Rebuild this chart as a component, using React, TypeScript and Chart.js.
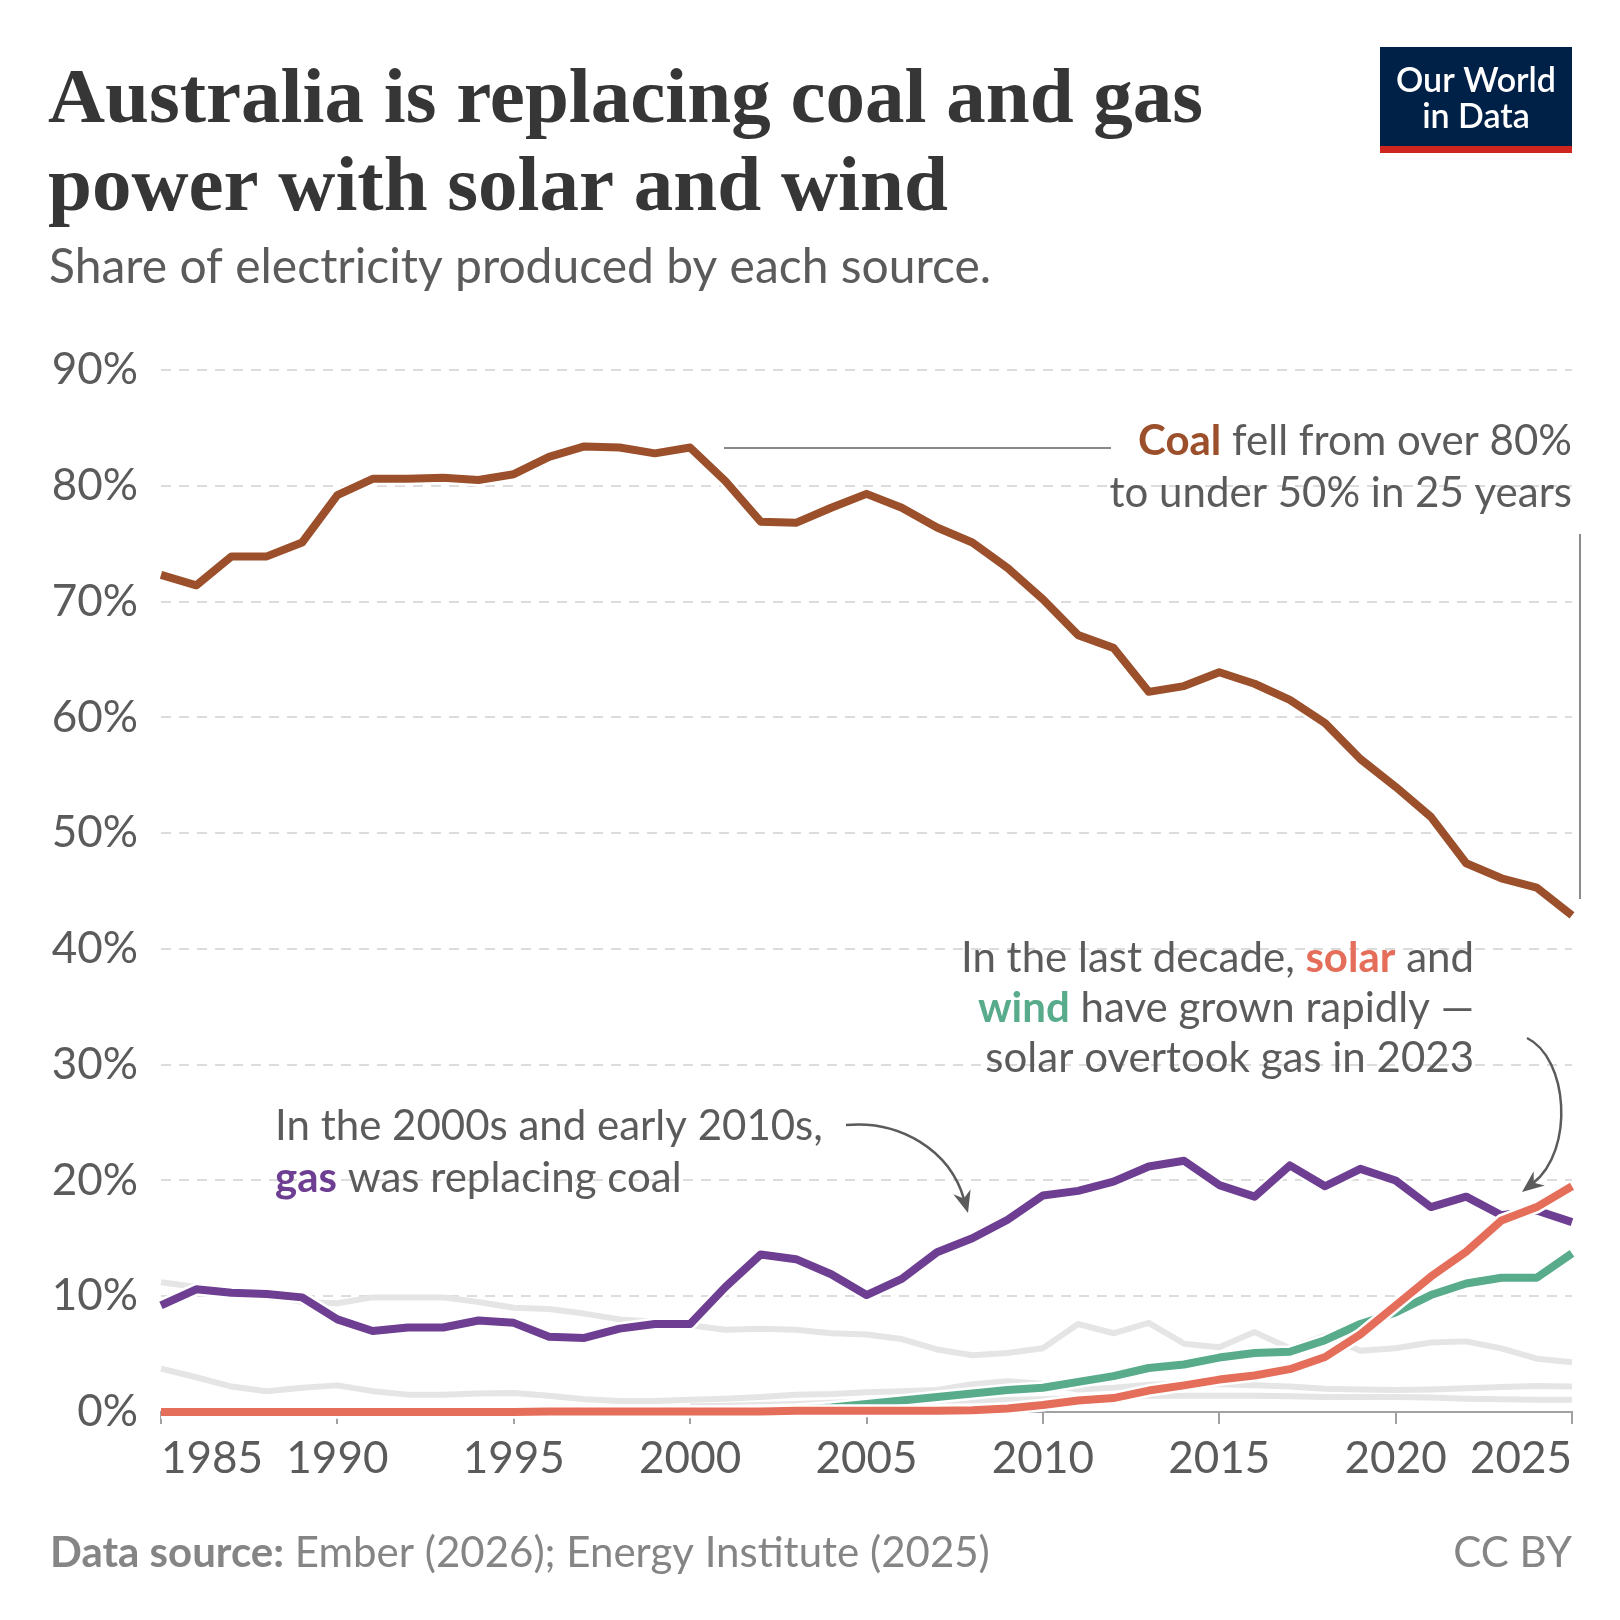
import React, { useEffect, useRef } from "react";
import { Chart, registerables } from "chart.js";

Chart.register(...registerables);

// ---------- data ----------
const years = [
  1985, 1986, 1987, 1988, 1989, 1990, 1991, 1992, 1993, 1994,
  1995, 1996, 1997, 1998, 1999, 2000, 2001, 2002, 2003, 2004,
  2005, 2006, 2007, 2008, 2009, 2010, 2011, 2012, 2013, 2014,
  2015, 2016, 2017, 2018, 2019, 2020, 2021, 2022, 2023, 2024,
  2025,
];

const coal = [
  72.3, 71.4, 73.9, 73.9, 75.1, 79.2, 80.6, 80.6, 80.7, 80.5,
  81.0, 82.5, 83.4, 83.3, 82.8, 83.3, 80.4, 76.9, 76.8, 78.1,
  79.3, 78.1, 76.4, 75.1, 72.9, 70.2, 67.1, 66.0, 62.2, 62.7,
  63.9, 62.9, 61.5, 59.5, 56.4, 54.0, 51.4, 47.4, 46.1, 45.3,
  42.9,
];

const gas = [
  9.2, 10.6, 10.3, 10.2, 9.9, 8.0, 7.0, 7.3, 7.3, 7.9,
  7.7, 6.5, 6.4, 7.2, 7.6, 7.6, 10.8, 13.6, 13.2, 11.9,
  10.1, 11.5, 13.8, 15.0, 16.6, 18.7, 19.1, 19.9, 21.2, 21.7,
  19.6, 18.6, 21.3, 19.5, 21.0, 20.0, 17.7, 18.6, 17.0, 17.4,
  16.4,
];

const solar = [
  0, 0, 0, 0, 0, 0, 0, 0, 0, 0,
  0, 0.05, 0.05, 0.05, 0.05, 0.05, 0.05, 0.05, 0.1, 0.1,
  0.1, 0.1, 0.1, 0.15, 0.3, 0.6, 1.0, 1.2, 1.85, 2.3,
  2.8, 3.15, 3.7, 4.75, 6.7, 9.2, 11.7, 13.85, 16.55, 17.7,
  19.5,
];

const wind = [
  0, 0, 0, 0, 0, 0, 0, 0, 0, 0,
  0, 0, 0, 0, 0.02, 0.03, 0.05, 0.1, 0.2, 0.4,
  0.7, 1.0, 1.3, 1.6, 1.9, 2.1, 2.6, 3.1, 3.8, 4.1,
  4.7, 5.1, 5.2, 6.2, 7.6, 8.6, 10.1, 11.1, 11.6, 11.6,
  13.7,
];

const hydro = [
  11.2, 10.8, 10.5, 10.1, 9.5, 9.4, 9.9, 9.9, 9.9, 9.5,
  9.0, 8.9, 8.5, 8.0, 7.8, 7.5, 7.1, 7.2, 7.1, 6.8,
  6.7, 6.3, 5.4, 4.9, 5.1, 5.5, 7.6, 6.8, 7.7, 5.9,
  5.6, 6.9, 5.5, 6.6, 5.3, 5.5, 6.0, 6.1, 5.5, 4.6,
  4.3,
];

const oil = [
  3.75, 3.0, 2.2, 1.8, 2.1, 2.3, 1.8, 1.5, 1.5, 1.6,
  1.65, 1.4, 1.1, 0.95, 0.95, 1.05, 1.15, 1.3, 1.5, 1.55,
  1.7, 1.8, 1.9, 2.4, 2.65, 2.45, 1.95, 2.1, 2.35, 2.45,
  2.4, 2.3, 2.2, 2.0, 1.95, 1.9, 1.95, 2.05, 2.15, 2.25,
  2.2,
];

const bioenergy = [
  null, null, null, null, null, null, null, null, null, null,
  null, null, null, null, null, 0.5, 0.55, 0.6, 0.7, 0.8,
  0.9, 0.95, 1.0, 1.0, 1.05, 1.1, 1.2, 1.3, 1.4, 1.4,
  1.4, 1.4, 1.35, 1.3, 1.3, 1.3, 1.25, 1.15, 1.1, 1.05,
  1.05,
];

const xTickStep = 5;
const yTickStep = 10;
const yMax = 90;

// ---------- styles ----------
const COAL = "#9b4f2a";
const GAS = "#6d3e91";
const SOLAR = "#e56e5a";
const WIND = "#58ac8c";
const OTHER = "#e5e5e5";
const TEXT = "#5b5b5b";

const FONT = "Lato, 'Noto Sans', sans-serif";
const SERIF = "'Liberation Serif', 'DejaVu Serif', serif";

type Run = { text: string; color: string; font: string };

function drawRuns(ctx: CanvasRenderingContext2D, runs: Run[], x: number, y: number, align: "left" | "right" | "center") {
  const widths = runs.map((r) => {
    ctx.font = r.font;
    return ctx.measureText(r.text).width;
  });
  const total = widths.reduce((a, b) => a + b, 0);
  let cx = align === "right" ? x - total : align === "center" ? x - total / 2 : x;
  ctx.textAlign = "left";
  runs.forEach((r, i) => {
    ctx.font = r.font;
    ctx.fillStyle = r.color;
    ctx.fillText(r.text, cx, y);
    cx += widths[i];
  });
}

function drawArrow(ctx: CanvasRenderingContext2D, p0: number[], p1: number[], p2: number[], p3: number[]) {
  const ang = Math.atan2(p3[1] - p2[1], p3[0] - p2[0]);
  const len = 22;
  const half = 9;
  const ux = Math.cos(ang);
  const uy = Math.sin(ang);
  const end = [p3[0] - ux * 14, p3[1] - uy * 14];
  ctx.strokeStyle = TEXT;
  ctx.lineWidth = 2.5;
  ctx.beginPath();
  ctx.moveTo(p0[0], p0[1]);
  ctx.bezierCurveTo(p1[0], p1[1], p2[0], p2[1], end[0], end[1]);
  ctx.stroke();
  const bx = p3[0] - ux * len;
  const by = p3[1] - uy * len;
  const nx = -uy;
  const ny = ux;
  ctx.fillStyle = TEXT;
  ctx.beginPath();
  ctx.moveTo(p3[0], p3[1]);
  ctx.lineTo(bx + nx * half, by + ny * half);
  ctx.lineTo(p3[0] - ux * (len - 7), p3[1] - uy * (len - 7));
  ctx.lineTo(bx - nx * half, by - ny * half);
  ctx.closePath();
  ctx.fill();
}

const decorPlugin = {
  id: "decor",
  afterDraw(chart: any) {
    const ctx: CanvasRenderingContext2D = chart.ctx;
    ctx.save();
    ctx.textBaseline = "alphabetic";

    // Title
    ctx.fillStyle = "#363636";
    ctx.font = `bold 79px ${SERIF}`;
    ctx.textAlign = "left";
    ctx.fillText("Australia is replacing coal and gas", 48, 122);
    ctx.fillText("power with solar and wind", 48, 210);

    // Subtitle
    ctx.fillStyle = TEXT;
    ctx.font = `48px ${FONT}`;
    ctx.fillText("Share of electricity produced by each source.", 49, 283);

    // Logo
    ctx.fillStyle = "#002147";
    ctx.fillRect(1380, 47, 192, 106);
    ctx.fillStyle = "#ce261e";
    ctx.fillRect(1380, 146, 192, 7);
    ctx.fillStyle = "#ffffff";
    ctx.textAlign = "center";
    ctx.font = `600 34px ${FONT}`;
    ctx.fillText("Our World", 1476, 92);
    ctx.fillText("in Data", 1476, 128);

    // Footer
    const foot = "#858585";
    drawRuns(ctx, [
      { text: "Data source:", color: foot, font: `bold 42px ${FONT}` },
      { text: " Ember (2026); Energy Institute (2025)", color: foot, font: `42px ${FONT}` },
    ], 50, 1567, "left");
    drawRuns(ctx, [{ text: "CC BY", color: foot, font: `42px ${FONT}` }], 1572, 1567, "right");

    // Annotations
    const reg = `42px ${FONT}`;
    const bold = `bold 42px ${FONT}`;
    drawRuns(ctx, [
      { text: "Coal", color: COAL, font: bold },
      { text: " fell from over 80%", color: TEXT, font: reg },
    ], 1572, 455, "right");
    drawRuns(ctx, [{ text: "to under 50% in 25 years", color: TEXT, font: reg }], 1572, 507, "right");

    ctx.strokeStyle = "#8a8a8a";
    ctx.lineWidth = 2;
    ctx.beginPath();
    ctx.moveTo(724, 448);
    ctx.lineTo(1111, 448);
    ctx.moveTo(1580, 534);
    ctx.lineTo(1580, 899);
    ctx.stroke();

    drawRuns(ctx, [
      { text: "In the last decade, ", color: TEXT, font: reg },
      { text: "solar", color: SOLAR, font: bold },
      { text: " and", color: TEXT, font: reg },
    ], 1474, 972, "right");
    drawRuns(ctx, [
      { text: "wind", color: WIND, font: bold },
      { text: " have grown rapidly —", color: TEXT, font: reg },
    ], 1474, 1022, "right");
    drawRuns(ctx, [{ text: "solar overtook gas in 2023", color: TEXT, font: reg }], 1474, 1072, "right");

    drawRuns(ctx, [{ text: "In the 2000s and early 2010s,", color: TEXT, font: reg }], 275, 1140, "left");
    drawRuns(ctx, [
      { text: "gas", color: GAS, font: bold },
      { text: " was replacing coal", color: TEXT, font: reg },
    ], 275, 1192, "left");

    drawArrow(ctx, [846, 1125], [900, 1120], [950, 1150], [968, 1213]);
    drawArrow(ctx, [1527, 1038], [1568, 1058], [1575, 1150], [1522, 1192]);

    ctx.restore();
  },
};

function series(label: string, values: (number | null)[], color: string, width: number, order: number) {
  return {
    label,
    data: years.map((yr, i) => ({ x: yr, y: values[i] })),
    borderColor: color,
    backgroundColor: color,
    borderWidth: width,
    pointRadius: 0,
    pointHoverRadius: 0,
    borderJoinStyle: "round" as const,
    borderCapStyle: "butt" as const,
    tension: 0,
    fill: false,
    spanGaps: false,
    clip: false as const,
    order,
  };
}

export default function App() {
  const ref = useRef<HTMLCanvasElement | null>(null);

  useEffect(() => {
    if (!ref.current) return;
    const chart = new Chart(ref.current, {
      type: "line",
      data: {
        datasets: [
          series("Coal", coal, COAL, 8, 0),
          series("Coal halo", coal, "#ffffff", 13, 1),
          series("Solar", solar, SOLAR, 8, 2),
          series("Solar halo", solar, "#ffffff", 13, 3),
          series("Gas", gas, GAS, 8, 4),
          series("Gas halo", gas, "#ffffff", 13, 5),
          series("Wind", wind, WIND, 8, 6),
          series("Wind halo", wind, "#ffffff", 13, 7),
          series("Hydropower", hydro, OTHER, 6, 8),
          series("Oil", oil, OTHER, 6, 9),
          series("Bioenergy", bioenergy, OTHER, 6, 10),
        ],
      },
      options: {
        responsive: false,
        animation: false,
        devicePixelRatio: 1,
        events: [],
        layout: { padding: { left: 50, right: 48, top: 370, bottom: 138 } },
        plugins: {
          legend: { display: false },
          tooltip: { enabled: false },
          title: { display: false },
        },
        scales: {
          x: {
            type: "linear",
            min: years[0],
            max: years[years.length - 1],
            afterFit: (s: any) => {
              s.height = 70;
            },
            ticks: {
              stepSize: xTickStep,
              autoSkip: false,
              maxRotation: 0,
              align: "inner",
              padding: 8,
              color: TEXT,
              font: { family: FONT, size: 44 },
              callback: (v: any) => String(v),
            },
            grid: {
              drawOnChartArea: false,
              drawTicks: true,
              tickLength: 12,
              color: "#a1a1a1",
              lineWidth: 2,
            },
            border: { display: true, color: "#a1a1a1", width: 2 },
          },
          y: {
            type: "linear",
            min: 0,
            max: yMax,
            afterFit: (s: any) => {
              s.width = 111;
            },
            ticks: {
              stepSize: yTickStep,
              padding: 23,
              color: TEXT,
              font: { family: FONT, size: 44 },
              callback: (v: any) => `${v}%`,
            },
            grid: {
              drawTicks: false,
              lineWidth: 2,
              color: (c: any) => (c.tick && c.tick.value === 0 ? "rgba(0,0,0,0)" : "#dcdcdc"),
            },
            border: { display: false, dash: [10, 8] },
          },
        },
      },
      plugins: [decorPlugin],
    } as any);
    return () => chart.destroy();
  }, []);

  return (
    <div style={{ position: "absolute", left: 0, top: 0, width: 1620, height: 1620, background: "#ffffff" }}>
      <canvas ref={ref} width={1620} height={1620} style={{ display: "block", width: 1620, height: 1620 }} />
    </div>
  );
}
